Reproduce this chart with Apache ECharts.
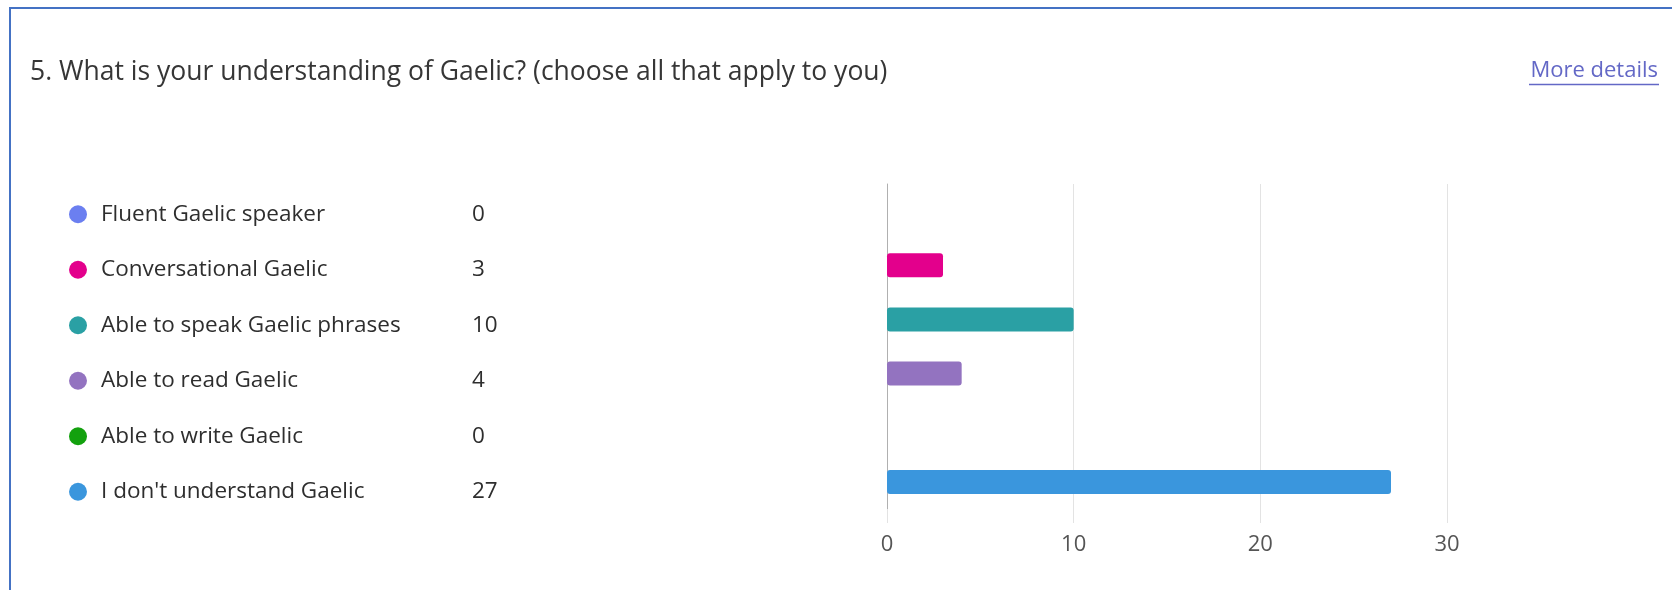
<!DOCTYPE html>
<html>
<head>
<meta charset="utf-8">
<script src="https://cdn.jsdelivr.net/npm/echarts@6/dist/echarts.min.js"></script>
<style>
html,body{margin:0;padding:0;background:#fff;}
#c{width:1672px;height:590px;}
</style>
</head>
<body>
<div id="c"></div>
<script>
const categories = ['Fluent Gaelic speaker', 'Conversational Gaelic', 'Able to speak Gaelic phrases', 'Able to read Gaelic', 'Able to write Gaelic', "I don't understand Gaelic"];
const counts = [0, 3, 10, 4, 0, 27];
const xTicks = [0, 10, 20, 30];
const titleText = '5. What is your understanding of Gaelic? (choose all that apply to you)';
const linkText = 'More details';

const colors = ['#6b7ff0', '#e3008c', '#2aa0a4', '#9373c0', '#13a10e', '#3a96dd'];
const FONT = 'Open Sans';
const TEXT = '#2e2e2e';
const GRID = '#e3e3e3';

const chart = echarts.init(document.getElementById('c'), null, {renderer: 'canvas'});
chart.setOption({
  backgroundColor: '#ffffff',
  animation: false,
  textStyle: {fontFamily: FONT},
  title: {
    text: titleText,
    left: 25,
    top: 54,
    textStyle: {fontFamily: FONT, fontSize: 26.5, fontWeight: 'normal', color: '#363636'}
  },
  graphic: [
    {type: 'polyline', shape: {points: [[10, 590], [10, 8], [1672, 8]]}, style: {stroke: '#4472c4', lineWidth: 2, fill: null}},
    {type: 'text', x: 1658, y: 71, style: {text: linkText, align: 'right', verticalAlign: 'middle', fontFamily: FONT, fontSize: 22, fill: '#6368c6'}},
    {type: 'line', shape: {x1: 1529, y1: 84.5, x2: 1659, y2: 84.5}, style: {stroke: '#6368c6', lineWidth: 1.5}}
  ],
  grid: [
    {left: 887, top: 184, width: 560, height: 325, containLabel: false},
    {left: 58, top: 186.5, width: 40, height: 333, containLabel: false}
  ],
  xAxis: [
    {
      gridIndex: 0, type: 'value', min: xTicks[0], max: xTicks[xTicks.length - 1], interval: xTicks[1] - xTicks[0],
      axisLine: {show: false},
      axisTick: {show: true, length: 14, lineStyle: {color: GRID}},
      splitLine: {show: true, lineStyle: {color: GRID, width: 1}},
      axisLabel: {margin: 25, fontFamily: FONT, fontSize: 22, color: '#555'}
    },
    {gridIndex: 1, type: 'value', min: -1, max: 1, show: false}
  ],
  yAxis: [
    {
      gridIndex: 0, type: 'category', data: categories, inverse: true,
      axisLine: {show: true, lineStyle: {color: '#b0b0b0'}},
      axisTick: {show: false}, axisLabel: {show: false}, splitLine: {show: false}
    },
    {gridIndex: 1, type: 'category', data: categories, inverse: true, show: false}
  ],
  series: [
    {
      type: 'bar', xAxisIndex: 0, yAxisIndex: 0,
      data: counts, barWidth: 24,
      itemStyle: {borderRadius: 3, color: p => colors[p.dataIndex]}
    },
    {
      type: 'scatter', xAxisIndex: 1, yAxisIndex: 1,
      symbol: 'circle', symbolSize: 18,
      data: categories.map((c, i) => ({value: [0, i], itemStyle: {color: colors[i], opacity: 1}})),
      label: {
        show: true, position: 'right', distance: 14,
        formatter: p => '{n|' + categories[p.dataIndex] + '}{v|' + counts[p.dataIndex] + '}',
        rich: {
          n: {width: 371, fontFamily: FONT, fontSize: 22.5, color: TEXT},
          v: {fontFamily: FONT, fontSize: 22.5, color: TEXT}
        }
      }
    }
  ]
});
</script>
</body>
</html>
